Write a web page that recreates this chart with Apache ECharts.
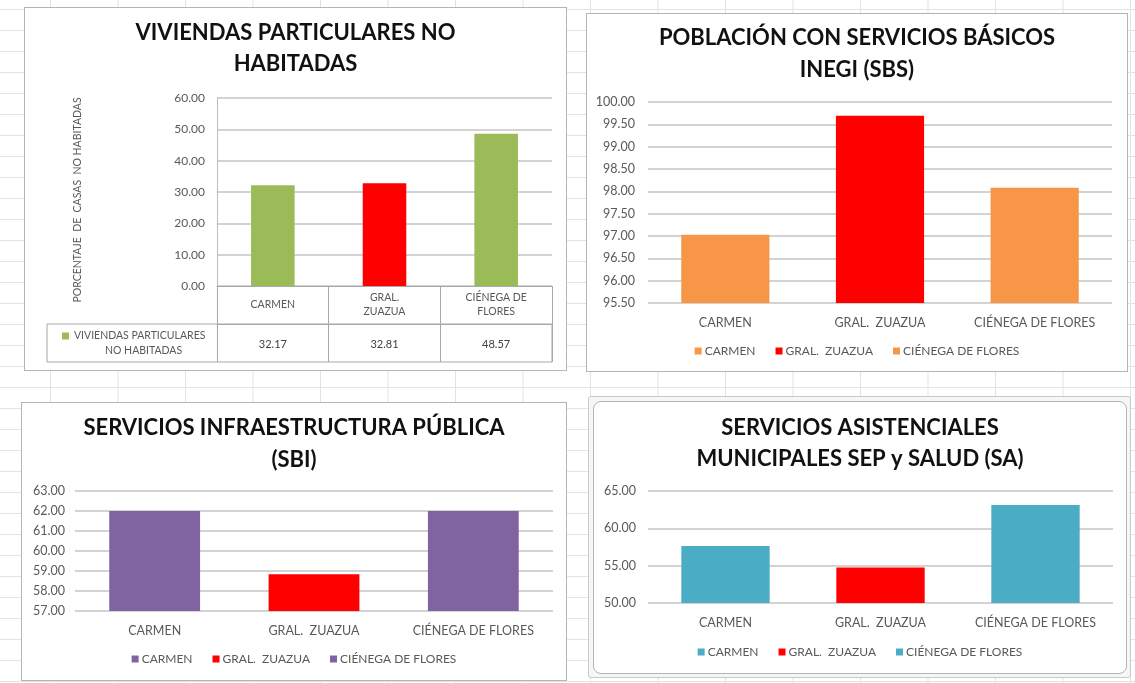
<!DOCTYPE html>
<html>
<head>
<meta charset="utf-8">
<title>Indicadores municipales</title>
<script src="https://cdn.jsdelivr.net/npm/echarts@6/dist/echarts.min.js"></script>
<style>
  html, body { margin: 0; padding: 0; width: 1135px; height: 683px; overflow: hidden; background: #fff; }
  #sheet {
    position: absolute; left: 0; top: 0; width: 1135px; height: 683px;
    background-image:
      linear-gradient(to bottom, #e3e3e3 1px, transparent 1px),
      linear-gradient(to right, #e3e3e3 1px, transparent 1px);
    background-size: 100% 21px, 67.5px 100%;
    background-position: 0 9px, 50px 0;
  }
  .panel { position: absolute; box-sizing: border-box; background: #fff; border: 1px solid #b4b4b4; }
  .frame { position: absolute; box-sizing: border-box; border: 1px solid #c9c9c9; background: #f6f6f6; border-radius: 3px; }
  .chart { position: absolute; }
</style>
</head>
<body>
<div id="sheet"></div>
<div class="panel" style="left:24px;top:7px;width:543px;height:364px;"></div>
<div class="panel" style="left:586px;top:13px;width:542px;height:359px;"></div>
<div class="panel" style="left:21px;top:402px;width:546px;height:279px;"></div>
<div class="frame" style="left:588px;top:396px;width:543px;height:282px;"></div>
<div class="panel" style="left:593px;top:401px;width:534px;height:273px;border-radius:8px;"></div>

<div id="c1" class="chart" style="left:24px;top:7px;width:543px;height:364px;"></div>
<div id="c2" class="chart" style="left:586px;top:13px;width:542px;height:359px;"></div>
<div id="c3" class="chart" style="left:21px;top:402px;width:546px;height:279px;"></div>
<div id="c4" class="chart" style="left:593px;top:401px;width:534px;height:273px;"></div>

<script>
// Municipalities shown in every chart
const categories = ['CARMEN', 'GRAL.  ZUAZUA', 'CIÉNEGA DE FLORES'];
const tableCategories = ['CARMEN', 'GRAL.\nZUAZUA', 'CIÉNEGA DE\nFLORES'];

// Viviendas particulares no habitadas (%)
const viviendasNoHabitadas = [32.17, 32.81, 48.57];
// Población con servicios básicos INEGI (SBS)
const serviciosBasicos = [97.03, 99.69, 98.08];
// Servicios infraestructura pública (SBI)
const infraestructuraPublica = [62.00, 58.84, 62.00];
// Servicios asistenciales municipales SEP y Salud (SA)
const serviciosAsistenciales = [57.63, 54.74, 63.13];

const FONT = 'Lato, "Open Sans", sans-serif';
const LABEL = '#595959';
const GRIDLINE = '#c4c4c4';
const TABLELINE = '#a8a8a8';

const fmt2 = v => Number(v).toFixed(2);

// grid box from page coordinates, relative to the chart's own container
function gridBox(origin, x0, y0, x1, y1) {
  return { left: x0 - origin.x, top: y0 - origin.y, width: x1 - x0, height: y1 - y0, outerBoundsMode: 'none' };
}

/* ---------- Viviendas particulares no habitadas, with data table ---------- */
(function () {
  const o = { x: 24, y: 7 };
  const pointColors = ['#9BBB59', '#FF0000', '#9BBB59'];
  const chart = echarts.init(document.getElementById('c1'));
  chart.setOption({
    animation: false,
    textStyle: { fontFamily: FONT },
    title: {
      text: 'VIVIENDAS PARTICULARES NO\nHABITADAS',
      left: 'center', top: 10, padding: 0,
      textStyle: { fontFamily: FONT, fontSize: 22, fontWeight: 'bold', color: '#111', lineHeight: 31 }
    },
    grid: gridBox(o, 217, 98, 552, 286),
    legend: {
      data: ['VIVIENDAS PARTICULARES NO HABITADAS'],
      left: 62 - o.x, top: 330 - o.y, padding: 0,
      itemWidth: 7, itemHeight: 7, icon: 'rect', selectedMode: false,
      formatter: () => '{a|VIVIENDAS PARTICULARES}\n{b|NO HABITADAS}',
      textStyle: {
        fontFamily: FONT, fontSize: 10.5, color: LABEL, padding: [14, 0, 0, 0],
        rich: {
          a: { fontFamily: FONT, fontSize: 10.5, color: LABEL, lineHeight: 15 },
          b: { fontFamily: FONT, fontSize: 10.5, color: LABEL, lineHeight: 15, padding: [0, 0, 0, 31] }
        }
      }
    },
    xAxis: [
      {
        type: 'category', data: tableCategories, position: 'bottom',
        axisLine: { lineStyle: { color: TABLELINE } },
        axisTick: { show: true, interval: 0, length: 38, lineStyle: { color: TABLELINE } },
        axisLabel: { interval: 0, margin: 19, verticalAlign: 'middle', fontSize: 10.5, lineHeight: 14, color: LABEL, fontFamily: FONT }
      },
      {
        type: 'category', data: viviendasNoHabitadas.map(fmt2), position: 'bottom', offset: 38,
        axisLine: { lineStyle: { color: TABLELINE } },
        axisTick: { show: true, interval: 0, length: 38, lineStyle: { color: TABLELINE } },
        axisLabel: { interval: 0, margin: 20, verticalAlign: 'middle', fontSize: 11, color: '#404040', fontFamily: FONT }
      }
    ],
    yAxis: {
      type: 'value', min: 0, max: 60, interval: 10,
      name: 'PORCENTAJE  DE  CASAS  NO HABITADAS', nameLocation: 'middle', nameGap: 217 - 83, nameRotate: 90,
      nameTextStyle: { fontFamily: FONT, fontSize: 10.5, color: LABEL, padding: [0, 16, 0, 0] },
      axisLine: { show: true, lineStyle: { color: '#bdbdbd' } },
      axisTick: { show: false },
      axisLabel: { formatter: fmt2, margin: 12, fontSize: 12, color: LABEL, fontFamily: FONT },
      splitLine: { lineStyle: { color: GRIDLINE, width: 1.5 } }
    },
    series: [{
      name: 'VIVIENDAS PARTICULARES NO HABITADAS',
      type: 'bar', xAxisIndex: 0, barWidth: '39%',
      itemStyle: { color: '#9BBB59' },
      data: viviendasNoHabitadas.map((v, i) => ({ value: v, itemStyle: { color: pointColors[i] } }))
    }],
    graphic: [{
      type: 'rect', z: 10, silent: true,
      shape: { x: 47 - o.x, y: 324 - o.y, width: 552 - 47, height: 38 },
      style: { fill: 'none', stroke: TABLELINE, lineWidth: 1 }
    }]
  });
})();

/* ---------- Charts with one colour per municipality ---------- */
function perMunicipioChart(id, cfg) {
  const chart = echarts.init(document.getElementById(id));
  const series = categories.map((name, i) => ({
    name, type: 'bar', barWidth: '57%', barGap: '-100%',
    itemStyle: { color: cfg.colors[i] },
    data: cfg.values.map((v, j) => (j === i ? v : '-'))
  }));
  chart.setOption({
    animation: false,
    textStyle: { fontFamily: FONT },
    title: {
      text: cfg.title, left: 'center', top: cfg.titleTop, padding: 0,
      textStyle: { fontFamily: FONT, fontSize: 22, fontWeight: 'bold', color: '#111', lineHeight: cfg.lineHeight }
    },
    grid: gridBox(cfg.origin, cfg.plot[0], cfg.plot[1], cfg.plot[2], cfg.plot[3]),
    legend: {
      data: categories, left: 'center', top: cfg.legendTop, padding: 0,
      icon: 'rect', itemWidth: 7, itemHeight: 7, itemGap: 20, selectedMode: false,
      textStyle: { fontFamily: FONT, fontSize: 12, color: LABEL, padding: [0, 0, 0, -2] }
    },
    xAxis: {
      type: 'category', data: categories,
      axisLine: { show: false }, axisTick: { show: false },
      axisLabel: { interval: 0, margin: 13, fontSize: 12.5, color: LABEL, fontFamily: FONT }
    },
    yAxis: {
      type: 'value', min: cfg.min, max: cfg.max, interval: cfg.interval,
      axisLine: { show: false }, axisTick: { show: false },
      axisLabel: { formatter: fmt2, margin: cfg.labelMargin, fontSize: 12.5, color: LABEL, fontFamily: FONT },
      splitLine: { lineStyle: { color: GRIDLINE, width: 1.5 } }
    },
    series
  });
}

perMunicipioChart('c2', {
  title: 'POBLACIÓN CON SERVICIOS BÁSICOS\nINEGI (SBS)',
  origin: { x: 586, y: 13 }, titleTop: 9, lineHeight: 32,
  plot: [648, 102, 1112, 303], labelMargin: 13, legendTop: 345 - 13,
  min: 95.5, max: 100, interval: 0.5,
  values: serviciosBasicos,
  colors: ['#F79646', '#FF0000', '#F79646']
});

perMunicipioChart('c3', {
  title: 'SERVICIOS INFRAESTRUCTURA PÚBLICA\n(SBI)',
  origin: { x: 21, y: 402 }, titleTop: 10, lineHeight: 32,
  plot: [75, 491, 553, 611], labelMargin: 10, legendTop: 653 - 402,
  min: 57, max: 63, interval: 1,
  values: infraestructuraPublica,
  colors: ['#8064A2', '#FF0000', '#8064A2']
});

perMunicipioChart('c4', {
  title: 'SERVICIOS ASISTENCIALES\nMUNICIPALES SEP y SALUD (SA)',
  origin: { x: 593, y: 401 }, titleTop: 11, lineHeight: 31,
  plot: [648, 491, 1113, 603], labelMargin: 12, legendTop: 646 - 401,
  min: 50, max: 65, interval: 5,
  values: serviciosAsistenciales,
  colors: ['#4BACC6', '#FF0000', '#4BACC6']
});
</script>
</body>
</html>
